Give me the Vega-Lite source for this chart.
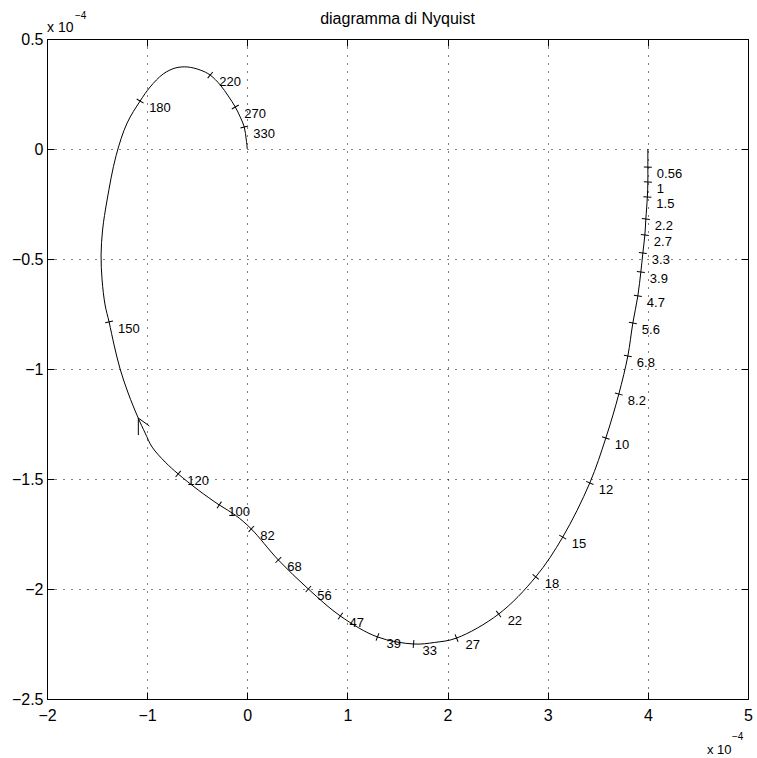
{
  "$schema": "https://vega.github.io/schema/vega-lite/v6.json",
  "width": 701,
  "height": 660,
  "autosize": {"type": "none"},
  "padding": {"left": 47, "top": 39, "right": 9, "bottom": 59},
  "background": "white",
  "config": {"view": {"stroke": "black", "strokeWidth": 1}},
  "datasets": {
    "curve": [
      {"k": 1, "x": 4.0, "y": 0}, {"k": 2, "x": 4.0, "y": -0.082}, {"k": 3, "x": 4.0, "y": -0.15}, {"k": 4, "x": 3.995, "y": -0.218},
      {"k": 5, "x": 3.98, "y": -0.318}, {"k": 6, "x": 3.97, "y": -0.391}, {"k": 7, "x": 3.95, "y": -0.473}, {"k": 8, "x": 3.93, "y": -0.559},
      {"k": 9, "x": 3.9, "y": -0.668}, {"k": 10, "x": 3.85, "y": -0.791}, {"k": 11, "x": 3.8, "y": -0.941}, {"k": 12, "x": 3.71, "y": -1.114},
      {"k": 13, "x": 3.58, "y": -1.314}, {"k": 14, "x": 3.42, "y": -1.518}, {"k": 15, "x": 3.15, "y": -1.764}, {"k": 16, "x": 2.88, "y": -1.945},
      {"k": 17, "x": 2.51, "y": -2.114}, {"k": 18, "x": 2.09, "y": -2.223}, {"k": 19, "x": 1.87, "y": -2.243}, {"k": 20, "x": 1.66, "y": -2.25},
      {"k": 21, "x": 1.3, "y": -2.218}, {"k": 22, "x": 0.93, "y": -2.123}, {"k": 23, "x": 0.61, "y": -2.0}, {"k": 24, "x": 0.31, "y": -1.868},
      {"k": 25, "x": 0.04, "y": -1.727}, {"k": 26, "x": -0.12, "y": -1.664}, {"k": 27, "x": -0.28, "y": -1.618}, {"k": 28, "x": -0.49, "y": -1.55},
      {"k": 29, "x": -0.69, "y": -1.477}, {"k": 30, "x": -0.82, "y": -1.423}, {"k": 31, "x": -0.95, "y": -1.355}, {"k": 32, "x": -1.02, "y": -1.291},
      {"k": 33, "x": -1.09, "y": -1.222}, {"k": 34, "x": -1.19, "y": -1.109}, {"k": 35, "x": -1.27, "y": -1.0}, {"k": 36, "x": -1.33, "y": -0.891},
      {"k": 37, "x": -1.38, "y": -0.786}, {"k": 38, "x": -1.42, "y": -0.709}, {"k": 39, "x": -1.45, "y": -0.595}, {"k": 40, "x": -1.46, "y": -0.482},
      {"k": 41, "x": -1.445, "y": -0.368}, {"k": 42, "x": -1.4, "y": -0.232}, {"k": 43, "x": -1.31, "y": -0.03}, {"k": 44, "x": -1.2, "y": 0.118},
      {"k": 45, "x": -1.07, "y": 0.218}, {"k": 46, "x": -0.97, "y": 0.282}, {"k": 47, "x": -0.84, "y": 0.341}, {"k": 48, "x": -0.72, "y": 0.368},
      {"k": 49, "x": -0.6, "y": 0.373}, {"k": 50, "x": -0.47, "y": 0.359}, {"k": 51, "x": -0.37, "y": 0.336}, {"k": 52, "x": -0.27, "y": 0.291},
      {"k": 53, "x": -0.19, "y": 0.241}, {"k": 54, "x": -0.12, "y": 0.191}, {"k": 55, "x": -0.07, "y": 0.145}, {"k": 56, "x": -0.03, "y": 0.1},
      {"k": 57, "x": -0.01, "y": 0.041}, {"k": 58, "x": 0, "y": 0}
    ],
    "ticks": [
      {"w": "0.56", "x": 4.0, "y": -0.082, "tangent": 92}, {"w": "1", "x": 4.0, "y": -0.15, "tangent": 92},
      {"w": "1.5", "x": 3.995, "y": -0.218, "tangent": 94}, {"w": "2.2", "x": 3.98, "y": -0.318, "tangent": 97},
      {"w": "2.7", "x": 3.97, "y": -0.391, "tangent": 97}, {"w": "3.3", "x": 3.95, "y": -0.473, "tangent": 97},
      {"w": "3.9", "x": 3.93, "y": -0.559, "tangent": 97}, {"w": "4.7", "x": 3.9, "y": -0.668, "tangent": 99},
      {"w": "5.6", "x": 3.85, "y": -0.791, "tangent": 100}, {"w": "6.8", "x": 3.8, "y": -0.941, "tangent": 101},
      {"w": "8.2", "x": 3.71, "y": -1.114, "tangent": 105}, {"w": "10", "x": 3.58, "y": -1.314, "tangent": 108},
      {"w": "12", "x": 3.42, "y": -1.518, "tangent": 113}, {"w": "15", "x": 3.15, "y": -1.764, "tangent": 120},
      {"w": "18", "x": 2.88, "y": -1.945, "tangent": 130}, {"w": "22", "x": 2.51, "y": -2.114, "tangent": 143},
      {"w": "27", "x": 2.09, "y": -2.223, "tangent": 158}, {"w": "33", "x": 1.66, "y": -2.25, "tangent": 185},
      {"w": "39", "x": 1.3, "y": -2.218, "tangent": 201}, {"w": "47", "x": 0.93, "y": -2.123, "tangent": 215},
      {"w": "56", "x": 0.61, "y": -2.0, "tangent": 222}, {"w": "68", "x": 0.31, "y": -1.868, "tangent": 226},
      {"w": "82", "x": 0.04, "y": -1.727, "tangent": 223}, {"w": "100", "x": -0.28, "y": -1.618, "tangent": 214},
      {"w": "120", "x": -0.69, "y": -1.477, "tangent": 220}, {"w": "150", "x": -1.38, "y": -0.786, "tangent": 257},
      {"w": "180", "x": -1.07, "y": 0.218, "tangent": 301}, {"w": "220", "x": -0.37, "y": 0.336, "tangent": 40},
      {"w": "270", "x": -0.12, "y": 0.191, "tangent": 60}, {"w": "330", "x": -0.03, "y": 0.1, "tangent": 75}
    ],
    "arrow": [
      {"arm": "a", "p": 1, "x": -0.978, "y": -1.259}, {"arm": "a", "p": 2, "x": -1.088, "y": -1.223},
      {"arm": "b", "p": 1, "x": -1.088, "y": -1.223}, {"arm": "b", "p": 2, "x": -1.088, "y": -1.3}
    ]
  },
  "resolve": {"axis": {"x": "independent", "y": "independent"}},
  "layer": [
    {
      "data": {"name": "curve"},
      "mark": {"type": "line", "color": "black", "strokeWidth": 1, "interpolate": "catmull-rom"},
      "encoding": {
        "x": {"field": "x", "type": "quantitative", "scale": {"domain": [-2, 5], "nice": false, "zero": false},
          "axis": {"orient": "bottom", "values": [-2, -1, 0, 1, 2, 3, 4, 5], "format": "~g", "title": null, "grid": true, "gridColor": "black", "gridDash": [1, 7], "gridWidth": 1, "gridOpacity": 1, "domain": false, "tickColor": "black", "tickSize": -7, "tickWidth": 1, "labelFont": "Liberation Sans", "labelFontSize": 16, "labelColor": "black", "labelPadding": 15, "labelFlush": false, "labelOverlap": false}},
        "y": {"field": "y", "type": "quantitative", "scale": {"domain": [-2.5, 0.5], "nice": false, "zero": false},
          "axis": {"orient": "left", "values": [-2.5, -2, -1.5, -1, -0.5, 0, 0.5], "format": "~g", "title": null, "grid": true, "gridColor": "black", "gridDash": [1, 7], "gridWidth": 1, "gridOpacity": 1, "domain": false, "tickColor": "black", "tickSize": -7, "tickWidth": 1, "labelFont": "Liberation Sans", "labelFontSize": 16, "labelColor": "black", "labelPadding": 11, "labelFlush": false, "labelOverlap": false}},
        "order": {"field": "k", "type": "quantitative"}
      }
    },
    {
      "data": {"name": "arrow"},
      "mark": {"type": "line", "color": "black", "strokeWidth": 1},
      "encoding": {
        "x": {"field": "x", "type": "quantitative", "scale": {"domain": [-2, 5], "nice": false, "zero": false},
          "axis": {"orient": "top", "values": [-2, -1, 0, 1, 2, 3, 4, 5], "title": null, "labels": false, "grid": false, "domain": false, "tickColor": "black", "tickSize": -7, "tickWidth": 1}},
        "y": {"field": "y", "type": "quantitative", "scale": {"domain": [-2.5, 0.5], "nice": false, "zero": false},
          "axis": {"orient": "right", "values": [-2.5, -2, -1.5, -1, -0.5, 0, 0.5], "title": null, "labels": false, "grid": false, "domain": false, "tickColor": "black", "tickSize": -7, "tickWidth": 1}},
        "detail": {"field": "arm"},
        "order": {"field": "p", "type": "quantitative"}
      }
    },
    {
      "data": {"name": "ticks"},
      "mark": {"type": "point", "shape": "M0,-1L0,1", "filled": false, "stroke": "black", "strokeWidth": 1, "size": 64, "opacity": 1},
      "encoding": {
        "x": {"field": "x", "type": "quantitative", "axis": null},
        "y": {"field": "y", "type": "quantitative", "axis": null},
        "angle": {"field": "tangent", "type": "quantitative", "scale": null}
      }
    },
    {
      "data": {"name": "ticks"},
      "mark": {"type": "text", "align": "left", "baseline": "middle", "dx": 9, "dy": 7, "font": "Liberation Sans", "fontSize": 13, "color": "black"},
      "encoding": {
        "x": {"field": "x", "type": "quantitative", "axis": null},
        "y": {"field": "y", "type": "quantitative", "axis": null},
        "text": {"field": "w"}
      }
    },
    {
      "data": {"values": [{"base": "x 10", "exp": "−4", "title": "diagramma di Nyquist"}]},
      "layer": [
        {"mark": {"type": "text", "align": "center", "baseline": "alphabetic", "dx": 0, "dy": -15, "font": "Liberation Sans", "fontSize": 16, "color": "black"},
         "encoding": {"x": {"datum": 1.5, "type": "quantitative", "axis": null}, "y": {"datum": 0.5, "type": "quantitative", "axis": null}, "text": {"field": "title"}}},
        {"mark": {"type": "text", "align": "left", "baseline": "alphabetic", "dx": 0, "dy": -7, "font": "Liberation Sans", "fontSize": 14, "color": "black"},
         "encoding": {"x": {"datum": -2, "type": "quantitative", "axis": null}, "y": {"datum": 0.5, "type": "quantitative", "axis": null}, "text": {"field": "base"}}},
        {"mark": {"type": "text", "align": "left", "baseline": "alphabetic", "dx": 28, "dy": -20, "font": "Liberation Sans", "fontSize": 10, "color": "black"},
         "encoding": {"x": {"datum": -2, "type": "quantitative", "axis": null}, "y": {"datum": 0.5, "type": "quantitative", "axis": null}, "text": {"field": "exp"}}},
        {"mark": {"type": "text", "align": "left", "baseline": "alphabetic", "dx": -41, "dy": 55, "font": "Liberation Sans", "fontSize": 13, "color": "black"},
         "encoding": {"x": {"datum": 5, "type": "quantitative", "axis": null}, "y": {"datum": -2.5, "type": "quantitative", "axis": null}, "text": {"field": "base"}}},
        {"mark": {"type": "text", "align": "left", "baseline": "alphabetic", "dx": -16, "dy": 41, "font": "Liberation Sans", "fontSize": 10, "color": "black"},
         "encoding": {"x": {"datum": 5, "type": "quantitative", "axis": null}, "y": {"datum": -2.5, "type": "quantitative", "axis": null}, "text": {"field": "exp"}}}
      ]
    }
  ]
}
